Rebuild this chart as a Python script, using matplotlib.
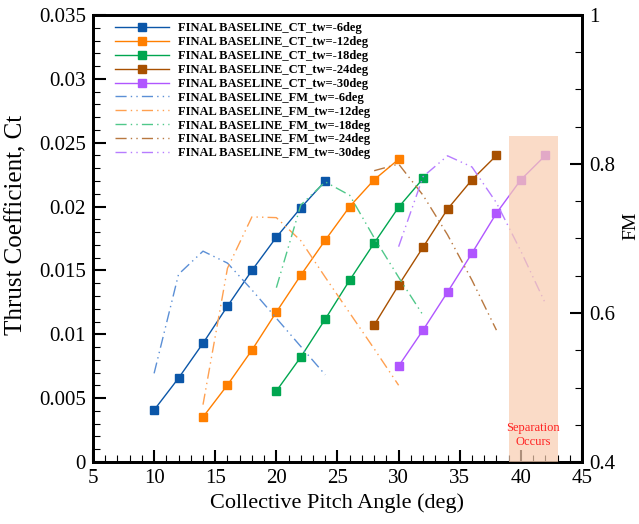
import matplotlib
matplotlib.use("Agg")
import matplotlib.pyplot as plt
from matplotlib.patches import Rectangle
from matplotlib.ticker import MultipleLocator

plt.rcParams['font.family'] = ['Liberation Serif', 'DejaVu Serif']

# thrust coefficient and figure of merit vs collective pitch, one set per twist
pitch_6 = [10, 12, 14, 16, 18, 20, 22, 24]
ct_6 = [0.00407, 0.00657, 0.0093, 0.0122, 0.0150, 0.0176, 0.0199, 0.0220]
fm_6 = [0.519, 0.652, 0.683, 0.667, 0.631, 0.593, 0.555, 0.517]

pitch_12 = [14, 16, 18, 20, 22, 24, 26, 28, 30]
ct_12 = [0.00352, 0.00603, 0.00876, 0.01174, 0.01463, 0.01737, 0.0200, 0.0221, 0.0237]
fm_12 = [0.477, 0.660, 0.729, 0.728, 0.697, 0.648, 0.600, 0.552, 0.503]

pitch_18 = [20, 22, 24, 26, 28, 30, 32]
ct_18 = [0.00556, 0.00822, 0.01119, 0.01424, 0.01714, 0.01995, 0.0222]
fm_18 = [0.634, 0.745, 0.776, 0.758, 0.701, 0.648, 0.597]

pitch_24 = [28, 30, 32, 34, 36, 38]
ct_24 = [0.01072, 0.01385, 0.01682, 0.0198, 0.0221, 0.0240]
fm_24 = [0.791, 0.800, 0.758, 0.705, 0.644, 0.577]

pitch_30 = [30, 32, 34, 36, 38, 40, 42]
ct_30 = [0.00751, 0.01033, 0.0133, 0.01635, 0.01948, 0.0221, 0.0240]
fm_30 = [0.689, 0.783, 0.811, 0.796, 0.748, 0.683, 0.613]

twists = ["-6", "-12", "-18", "-24", "-30"]
pitches = [pitch_6, pitch_12, pitch_18, pitch_24, pitch_30]
cts = [ct_6, ct_12, ct_18, ct_24, ct_30]
fms = [fm_6, fm_12, fm_18, fm_24, fm_30]

ct_colors = ['#0b56a8', '#ff7f00', '#00a650', '#a85000', '#b056ff']
fm_colors = ['#5b8fd6', '#ffa050', '#50c88a', '#b87840', '#b77cff']

# separation zone
sep_x0, sep_x1, sep_top = 39, 43, 0.0255

fig = plt.figure(figsize=(6.39, 5.24), dpi=100)
ax = fig.add_axes([0.1455, 0.1183, 0.7653, 0.8531])
ax2 = ax.twinx()

handles = []
for i in range(5):
    h, = ax.plot(pitches[i], cts[i], color=ct_colors[i], lw=1.0, marker='s', ms=5.5,
                 mec=ct_colors[i], mfc=ct_colors[i],
                 label=f"FINAL BASELINE_CT_tw={twists[i]}deg")
    handles.append(h)
for i in range(5):
    h, = ax2.plot(pitches[i], fms[i], color=fm_colors[i], lw=1.0,
                  dashes=(8, 3, 1, 3, 1, 3),
                  label=f"FINAL BASELINE_FM_tw={twists[i]}deg")
    handles.append(h)

# shaded box on top of the curves
shade = Rectangle((sep_x0, 0), sep_x1 - sep_x0, sep_top, transform=ax.transData,
                  facecolor='#f8cdb0', edgecolor='none', alpha=0.7, zorder=5)
ax2.add_patch(shade)
ax2.text(41, 0.0021, "Separation\nOccurs", transform=ax.transData, ha='center', va='center',
         fontsize=9, color='#ff2020', linespacing=1.25, zorder=6)

ax.set_xlim(5, 45)
ax.set_ylim(0, 0.035)
ax2.set_ylim(0.4, 1.0)

ax.xaxis.set_major_locator(MultipleLocator(5))
ax.xaxis.set_minor_locator(MultipleLocator(1))
ax.yaxis.set_minor_locator(MultipleLocator(0.001))
ax2.yaxis.set_minor_locator(MultipleLocator(0.05))
ax.set_yticks([0, 0.005, 0.01, 0.015, 0.02, 0.025, 0.03, 0.035])
ax.set_yticklabels(["0", "0.005", "0.01", "0.015", "0.02", "0.025", "0.03", "0.035"])
ax2.set_yticks([0.4, 0.6, 0.8, 1.0])
ax2.set_yticklabels(["0.4", "0.6", "0.8", "1"])

for a in (ax, ax2):
    for s in a.spines.values():
        s.set_linewidth(2)
ax.tick_params(which='major', direction='in', length=9, width=1.5, labelsize=15, pad=5)
ax.tick_params(which='minor', direction='in', length=5, width=0.8)
ax2.tick_params(which='major', direction='in', length=9, width=1.5, labelsize=15, pad=5)
ax2.tick_params(which='minor', direction='in', length=5, width=0.8)

ax.set_xlabel("Collective Pitch Angle (deg)", fontsize=16, labelpad=4)
ax.set_ylabel("Thrust Coefficient, Ct", fontsize=18)
ax.yaxis.set_label_coords(-0.135, 0.53)
ax2.set_ylabel("FM", fontsize=14)
ax2.yaxis.set_label_coords(1.082, 0.528)

leg = ax.legend(handles=handles, loc='upper left', bbox_to_anchor=(0.03, 1.0), frameon=False,
                prop={'family': 'Liberation Serif', 'weight': 'bold', 'size': 9},
                handlelength=4.3, labelspacing=0.15, handletextpad=0.7, borderaxespad=0.2)
leg.set_zorder(10)

fig.savefig("out.png", dpi=100)
